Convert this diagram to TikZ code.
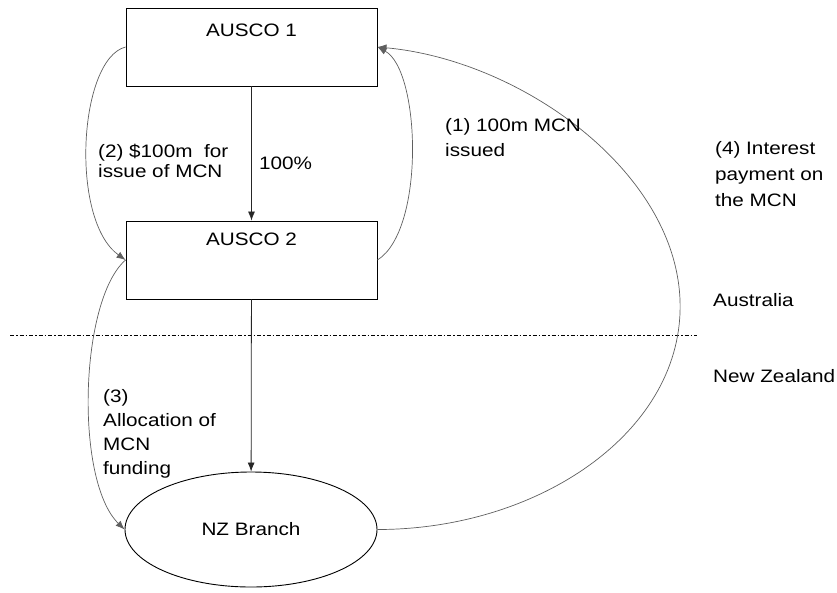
\documentclass[tikz,border=0pt]{standalone}
\usepackage{fontspec}
\setmainfont{Liberation Sans}[FakeStretch=1.15]
\usetikzlibrary{arrows.meta, positioning, shapes.geometric, calc}
\definecolor{linegray}{RGB}{95, 95, 95}

\begin{document}
\begin{tikzpicture}[x=1pt, y=-1pt,
    entity/.style={draw=black, line width=0.9pt, minimum width=251pt, minimum height=78pt, inner sep=0pt},
    branch/.style={draw=black, line width=0.9pt, ellipse, minimum width=252pt, minimum height=115pt, inner sep=0pt, font=\fontsize{18}{20}\selectfont},
    txt/.style={font=\fontsize{18}{20}\selectfont, inner sep=0pt},
    lbl/.style={txt, align=left, anchor=base west},
    own/.style={-{Latex[length=9pt, width=7pt]}, line width=0.8pt, draw=black!85},
    flow/.style={-{Latex[length=9pt, width=7pt]}, line width=0.7pt, draw=linegray},
    border/.style={line width=0.9pt, dash pattern=on 4pt off 2pt on 1.5pt off 2pt}
]
    \useasboundingbox (0,0) rectangle (837,592);

    % Australia side
    \node[entity] (ausco1) at (251.5,47) {};
    \node[txt] (ausco1txt) at ([yshift=-23pt]ausco1.north) {AUSCO 1};
    \node[entity] (ausco2) at (251.5,260) {};
    \node[txt] (ausco2txt) at ([yshift=-19pt]ausco2.north) {AUSCO 2};

    % New Zealand side
    \node[branch] (nz) at (251,529.5) {NZ Branch};

    % Border
    \coordinate (bordl) at (10,335);
    \coordinate (bordr) at (697,335);
    \draw[border] (bordl) -- (bordr);
    \node[lbl] (aus) at (713,306) {Australia};
    \node[lbl] (nzl) at (713,382) {New Zealand};

    % Ownership
    \draw[own] (ausco1) -- (ausco2);
    \draw[own] (ausco2) -- (nz);
    \node[lbl] (pct) at (259,169) {100\%};

    % Flows
    \draw[flow] (ausco2.east) .. controls +(48,-30) and +(43,23) .. (ausco1.east);
    \draw[flow] (ausco1.west) .. controls +(-47,12) and +(-56,-40) .. (ausco2.west);
    \draw[flow] (ausco2.west) .. controls +(-46,40) and +(-50,-49) .. (nz.west);
    \coordinate (turn) at (680,300);
    \draw[flow] (nz.east) .. controls +(163,0) and (685,430) .. (turn)
        .. controls (675,170) and (520,60) .. (ausco1.east);

    % base anchor sits on the last line
    \node[lbl] (step1) at (445,156) [font=\fontsize{18}{25}\selectfont] {(1) 100m MCN\\issued};
    \node[lbl] (step2) at (98,177) {(2) \$100m~ for\\issue of MCN};
    \node[lbl] (step3) at (103,474) [font=\fontsize{18}{24}\selectfont] {(3)\\Allocation of\\MCN\\funding};
    \node[lbl] (step4) at (715,206) [font=\fontsize{18}{26}\selectfont] {(4) Interest\\payment on\\the MCN};
\end{tikzpicture}
\end{document}
